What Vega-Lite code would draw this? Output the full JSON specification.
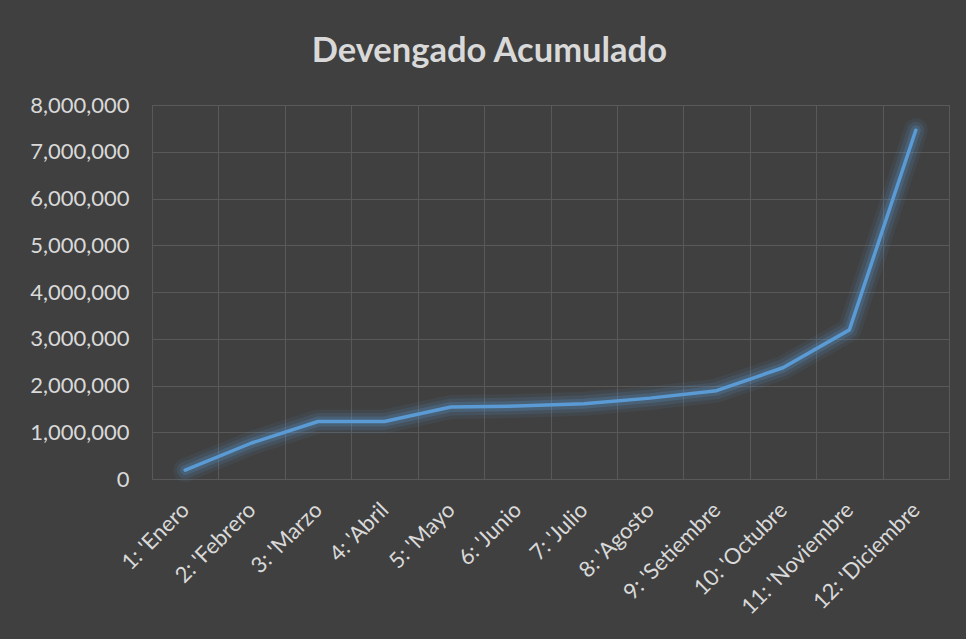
{
  "$schema": "https://vega.github.io/schema/vega-lite/v6.json",
  "width": 797,
  "height": 374,
  "autosize": {"type": "none"},
  "padding": {"left": 152, "top": 105, "right": 17, "bottom": 160},
  "background": "#404040",
  "config": {
    "view": {"stroke": "#595959", "strokeWidth": 1}
  },
  "title": {
    "text": "Devengado Acumulado",
    "font": "Lato",
    "fontSize": 34.5,
    "fontWeight": "bold",
    "color": "#d9d9d9",
    "offset": 25,
    "anchor": "middle",
    "frame": "bounds"
  },
  "data": {
    "values": [
      {"mes": "1: 'Enero", "devengado": 190000},
      {"mes": "2: 'Febrero", "devengado": 770000},
      {"mes": "3: 'Marzo", "devengado": 1230000},
      {"mes": "4: 'Abril", "devengado": 1230000},
      {"mes": "5: 'Mayo", "devengado": 1540000},
      {"mes": "6: 'Junio", "devengado": 1560000},
      {"mes": "7: 'Julio", "devengado": 1610000},
      {"mes": "8: 'Agosto", "devengado": 1730000},
      {"mes": "9: 'Setiembre", "devengado": 1890000},
      {"mes": "10: 'Octubre", "devengado": 2380000},
      {"mes": "11: 'Noviembre", "devengado": 3190000},
      {"mes": "12: 'Diciembre", "devengado": 7460000}
    ]
  },
  "encoding": {
    "x": {
      "field": "mes",
      "type": "nominal",
      "sort": null,
      "bandPosition": 0.5,
      "scale": {"type": "band", "paddingInner": 0, "paddingOuter": 0},
      "axis": {
        "title": null,
        "labelAngle": -45,
        "labelAlign": "right",
        "labelBaseline": "middle",
        "labelPadding": 27,
        "ticks": false,
        "tickSize": 0,
        "tickBand": "extent",
        "grid": true,
        "gridColor": "#595959",
        "gridWidth": 1,
        "domain": false,
        "labelFont": "Lato",
        "labelFontSize": 22,
        "labelColor": "#d9d9d9"
      }
    },
    "y": {
      "field": "devengado",
      "type": "quantitative",
      "scale": {"domain": [0, 8000000], "nice": false},
      "axis": {
        "title": null,
        "values": [0, 1000000, 2000000, 3000000, 4000000, 5000000, 6000000, 7000000, 8000000],
        "format": ",d",
        "labelPadding": 23,
        "ticks": false,
        "tickSize": 0,
        "domain": false,
        "grid": true,
        "gridColor": "#595959",
        "gridWidth": 1,
        "labelFont": "Lato",
        "labelFontSize": 22,
        "labelColor": "#d9d9d9"
      }
    }
  },
  "layer": [
    {"mark": {"type": "line", "color": "#5b9bd5", "strokeWidth": 24, "opacity": 0.08, "strokeCap": "round", "strokeJoin": "round"}},
    {"mark": {"type": "line", "color": "#5b9bd5", "strokeWidth": 17, "opacity": 0.12, "strokeCap": "round", "strokeJoin": "round"}},
    {"mark": {"type": "line", "color": "#5b9bd5", "strokeWidth": 10, "opacity": 0.22, "strokeCap": "round", "strokeJoin": "round"}},
    {"mark": {"type": "line", "color": "#5b9bd5", "strokeWidth": 3.5, "strokeCap": "round", "strokeJoin": "round"}}
  ]
}
